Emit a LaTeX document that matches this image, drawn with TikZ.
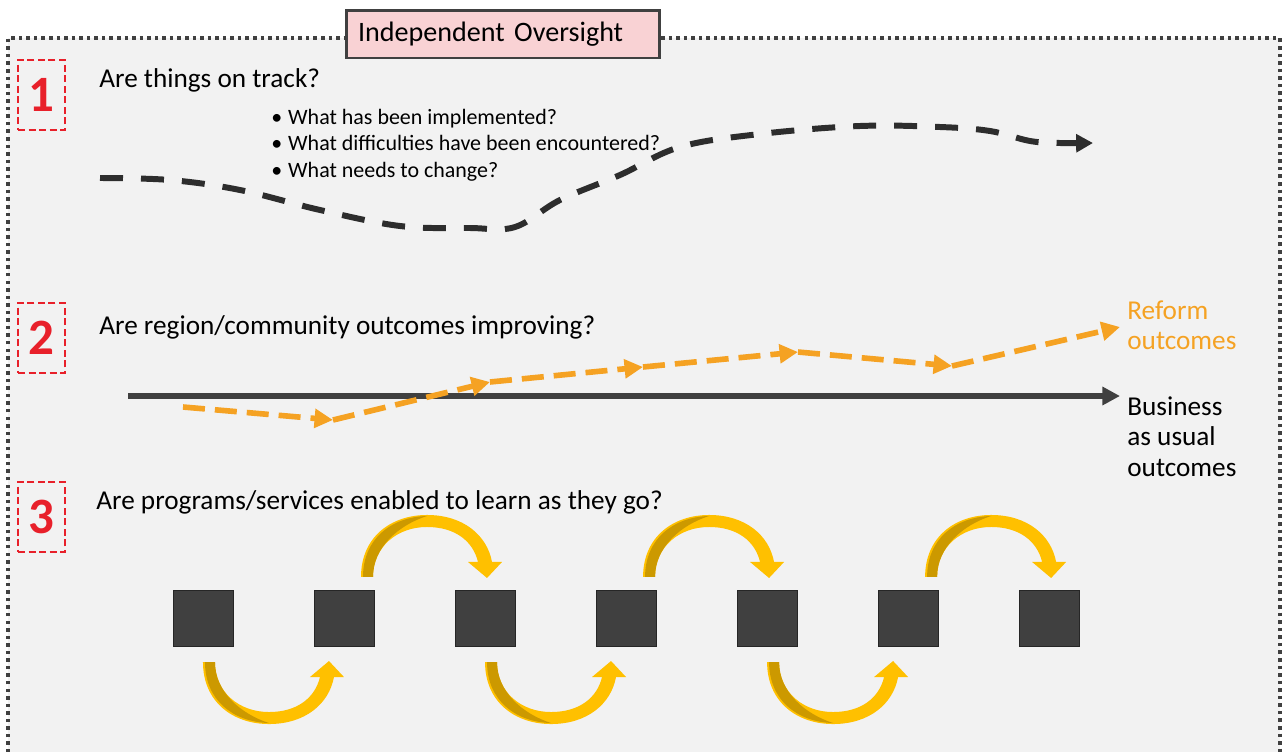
\documentclass[tikz,border=0pt]{standalone}
\usepackage{fontspec}
\setmainfont{Carlito}
\usepackage{tikz}
\usetikzlibrary{arrows.meta,positioning,calc}
\usepackage{xcolor}
\definecolor{framegray}{RGB}{64,64,64}
\definecolor{panelgray}{RGB}{242,242,242}
\definecolor{titlepink}{RGB}{249,210,212}
\definecolor{numred}{RGB}{232,32,42}
\definecolor{reformorange}{RGB}{245,162,35}
\definecolor{trackblack}{RGB}{45,45,45}
\definecolor{loopgold}{RGB}{255,192,0}
\definecolor{loopdark}{RGB}{204,153,0}
\tikzset{
    titlebox/.style={draw=framegray, line width=1.7pt, fill=titlepink, text width=5.8cm, inner xsep=0.24cm, minimum height=0.96cm, align=left, font=\fontsize{16}{18}\selectfont},
    numbox/.style={draw=numred, line width=1.2pt, dash pattern=on 4pt off 2pt, minimum width=0.94cm, minimum height=1.4cm, inner sep=0pt, text=numred, font=\fontsize{29}{29}\selectfont\bfseries},
    question/.style={anchor=base west, inner sep=0pt, font=\fontsize{15.5}{18}\selectfont},
    bullet/.style={anchor=base west, inner sep=0pt, font=\fontsize{12.5}{15}\selectfont},
    outtext/.style={anchor=north west, inner sep=0pt, align=left, font=\fontsize{15.5}{17.5}\selectfont},
    stepsq/.style={draw=black!85, fill=framegray, line width=0.6pt, minimum width=1.2cm, minimum height=1.12cm, inner sep=0pt},
    track/.style={draw=trackblack, line width=3.4pt, dash pattern=on 0.46cm off 0.36cm, -{Triangle[length=9.6pt,width=10pt]}},
    reform/.style={draw=reformorange, line width=3.2pt, dash pattern=on 0.44cm off 0.2cm, -{Triangle[length=10.5pt,width=10.5pt]}},
    bau/.style={draw=framegray, line width=3pt, -{Triangle[length=10pt,width=10pt]}},
    cyclearrow/.pic={
        \fill[loopgold] (0,0) .. controls (0,-40) and (30,-62) .. (66,-62)
            .. controls (102,-62) and (126,-42) .. (131,-15) -- (141,-15) -- (126,1) -- (107,-15) -- (117,-15)
            .. controls (112,-36) and (94,-50) .. (66,-50) .. controls (36,-50) and (12,-30) .. (12,0) -- cycle;
        \fill[loopdark] (2,0) .. controls (2,-38) and (30,-60) .. (66,-61)
            .. controls (38,-52) and (12,-30) .. (12,0) -- cycle;
    },
}

\begin{document}
\begin{tikzpicture}[x=0.02cm, y=-0.02cm]
    \useasboundingbox (0,0) rectangle (1282,751);

    % Oversight frame
    \fill[panelgray] (8,38) rectangle (1280,760);
    \draw[framegray, line width=2pt, dash pattern=on 2pt off 2.3pt] (8,760) -- (8,38) -- (1280,38) -- (1280,760);
    \node[titlebox] (title) at (503,34) {Independent Oversight};

    % 1: on track
    \node[numbox] (n1) at (41.5,95) {1};
    \node[question] (q1) at (99,87) {Are things on track?};
    \node[bullet] (b1) at (271,124) {\makebox[9.6pt][l]{\textbullet}What has been implemented?};
    \node[bullet] (b2) at (271,150) {\makebox[9.6pt][l]{\textbullet}What difficulties have been encountered?};
    \node[bullet] (b3) at (271,177) {\makebox[9.6pt][l]{\textbullet}What needs to change?};
    \coordinate (trackstart) at (100,178);
    \coordinate (trackend) at (1093,143);
    \draw[track] plot[smooth, tension=0.6] coordinates {(trackstart) (170,180) (240,190) (320,210) (400,226)
        (470,228) (515,227) (560,200) (620,175) (680,147) (760,134) (860,126) (940,127) (990,131)
        (1030,141) (1060,143) (trackend)};

    % 2: outcomes
    \node[numbox] (n2) at (41.5,338) {2};
    \node[question] (q2) at (99,334) {Are region/community outcomes improving?};
    \coordinate (bau0) at (128,396);
    \coordinate (bau1) at (1120,396);
    \draw[bau] (bau0) -- (bau1);
    \node[outtext] (bautext) at (1127,396) {Business\\as usual\\outcomes};
    \coordinate (r0) at (183,407);
    \coordinate (r1) at (333,420);
    \coordinate (r2) at (490,382);
    \coordinate (r3) at (643,367);
    \coordinate (r4) at (798,352);
    \coordinate (r5) at (952,366);
    \coordinate (r6) at (1120,327);
    \draw[reform] (r0) -- (r1);
    \draw[reform] (r1) -- (r2);
    \draw[reform] (r2) -- (r3);
    \draw[reform] (r3) -- (r4);
    \draw[reform] (r4) -- (r5);
    \draw[reform] (r5) -- (r6);
    \node[outtext, text=reformorange] (reformtext) at (1127,300) {Reform\\outcomes};

    % 3: learning loops
    \node[numbox] (n3) at (41.5,517) {3};
    \node[question] (q3) at (96,509) {Are programs/services enabled to learn as they go?};
    \node[stepsq] (s1) at (203.5,618.5) {};
    \node[stepsq, right=1.6cm of s1] (s2) {};
    \node[stepsq, right=1.6cm of s2] (s3) {};
    \node[stepsq, right=1.6cm of s3] (s4) {};
    \node[stepsq, right=1.6cm of s4] (s5) {};
    \node[stepsq, right=1.6cm of s5] (s6) {};
    \node[stepsq, right=1.6cm of s6] (s7) {};
    \pic at ($(s2.north west)+(47,-13)$) {cyclearrow};
    \pic at ($(s4.north west)+(47,-13)$) {cyclearrow};
    \pic at ($(s6.north west)+(47,-13)$) {cyclearrow};
    \pic[yscale=-1] at ($(s1.south west)+(30,15)$) {cyclearrow};
    \pic[yscale=-1] at ($(s3.south west)+(30,15)$) {cyclearrow};
    \pic[yscale=-1] at ($(s5.south west)+(30,15)$) {cyclearrow};
\end{tikzpicture}
\end{document}
